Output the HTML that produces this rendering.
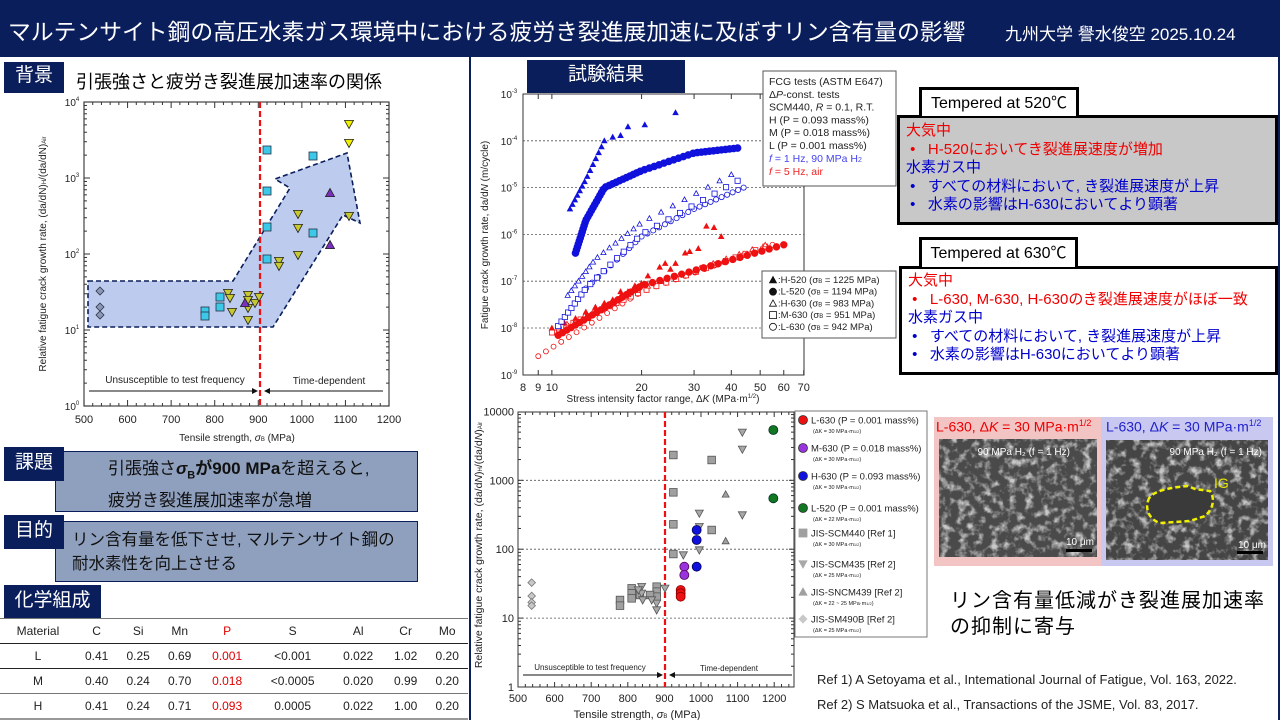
<!DOCTYPE html>
<html><head><meta charset="utf-8">
<style>
*{margin:0;padding:0;box-sizing:border-box}
body{width:1280px;height:720px;position:relative;overflow:hidden;background:#fff;font-family:"Liberation Sans","Noto Sans CJK JP",sans-serif}
.a{position:absolute;white-space:nowrap}
.lab{position:absolute;background:#0b1e5c;color:#fff;font-size:19px;text-align:center}
.box{position:absolute;background:#8fa0bf;border:1.5px solid #0b1e5c;color:#111;font-size:17px;line-height:24px;white-space:nowrap}
table{border-collapse:collapse;font-size:12px;color:#222}
td{text-align:center;height:25px}
.r{color:#e00000}
.bl{color:#0000cc}.rd{color:#ee0000}
</style></head><body>
<div class="a" style="left:0;top:0;width:1280px;height:57px;background:#0b1e5c"></div>
<div class="a" style="left:8px;top:14px;color:#fff;font-size:22.8px">マルテンサイト鋼の高圧水素ガス環境中における疲労き裂進展加速に及ぼすリン含有量の影響</div>
<div class="a" style="left:1005px;top:20px;color:#fff;font-size:17px">九州大学 譽水俊空 2025.10.24</div>
<div class="a" style="left:469px;top:57px;width:2px;height:663px;background:#0b1e5c"></div>
<div class="a" style="left:1278px;top:57px;width:2px;height:663px;background:#0b1e5c"></div>

<div class="lab" style="left:4px;top:62px;width:60px;height:31px;line-height:28px">背景</div>
<div class="a" style="left:76px;top:68px;font-size:18px">引張強さと疲労き裂進展加速率の関係</div>
<div class="lab" style="left:527px;top:60px;width:158px;height:33px;line-height:30px">試験結果</div>

<div class="box" style="left:55px;top:451px;width:363px;height:61px;padding:4px 0 0 52px;font-size:17px;line-height:26px">引張強さ<b><i>σ</i><sub style="font-size:11px">B</sub>が900 MPa</b>を超えると,<br>疲労き裂進展加速率が急増</div>
<div class="lab" style="left:4px;top:447px;width:60px;height:34px;line-height:32px">課題</div>
<div class="box" style="left:55px;top:521px;width:363px;height:61px;padding:6px 0 0 16px;font-size:16.5px">リン含有量を低下させ, マルテンサイト鋼の<br>耐水素性を向上させる</div>
<div class="lab" style="left:4px;top:515px;width:60px;height:34px;line-height:32px">目的</div>
<div class="lab" style="left:4px;top:585px;width:97px;height:34px;line-height:32px">化学組成</div>

<table class="a" style="left:0;top:618px;width:468px;border-top:1.5px solid #777">
<tr style="border-bottom:1.5px solid #222"><td>Material</td><td>C</td><td>Si</td><td>Mn</td><td class="r">P</td><td>S</td><td>Al</td><td>Cr</td><td>Mo</td></tr>
<tr style="border-bottom:1.5px solid #222"><td>L</td><td>0.41</td><td>0.25</td><td>0.69</td><td class="r">0.001</td><td>&lt;0.001</td><td>0.022</td><td>1.02</td><td>0.20</td></tr>
<tr style="border-bottom:1.5px solid #777"><td>M</td><td>0.40</td><td>0.24</td><td>0.70</td><td class="r">0.018</td><td>&lt;0.0005</td><td>0.020</td><td>0.99</td><td>0.20</td></tr>
<tr style="border-bottom:2px solid #999"><td>H</td><td>0.41</td><td>0.24</td><td>0.71</td><td class="r">0.093</td><td>0.0005</td><td>0.022</td><td>1.00</td><td>0.20</td></tr>
</table>

<div class="a" style="left:897px;top:115px;width:381px;height:110px;background:#c8c8c8;border:3px solid #000"></div>
<div class="a" style="left:919px;top:87px;width:160px;height:29px;background:#fff;border:3px solid #000;border-bottom:none;font-size:16px;text-align:center;line-height:27px">Tempered at 520℃</div>
<div class="a" style="left:906px;top:122px;font-size:15px;line-height:18.5px">
<div class="rd">大気中</div><div class="rd">&nbsp;•&nbsp;&nbsp; H-520においてき裂進展速度が増加</div>
<div class="bl">水素ガス中</div><div class="bl">&nbsp;•&nbsp;&nbsp; すべての材料において, き裂進展速度が上昇</div><div class="bl">&nbsp;•&nbsp;&nbsp; 水素の影響はH-630においてより顕著</div></div>
<div class="a" style="left:899px;top:266px;width:379px;height:109px;background:#fff;border:3px solid #000"></div>
<div class="a" style="left:919px;top:237px;width:159px;height:30px;background:#fff;border:3px solid #000;border-bottom:none;font-size:16px;text-align:center;line-height:27px">Tempered at 630℃</div>
<div class="a" style="left:908px;top:272px;font-size:15px;line-height:18.5px">
<div class="rd">大気中</div><div class="rd">&nbsp;•&nbsp;&nbsp; L-630, M-630, H-630のき裂進展速度がほぼ一致</div>
<div class="bl">水素ガス中</div><div class="bl">&nbsp;•&nbsp;&nbsp; すべての材料において, き裂進展速度が上昇</div><div class="bl">&nbsp;•&nbsp;&nbsp; 水素の影響はH-630においてより顕著</div></div>

<div class="a" style="left:934px;top:417px;width:167px;height:149px;background:#f2c4c4"></div>
<div class="a" style="left:1101px;top:417px;width:172px;height:149px;background:#c8c8f0"></div>
<div class="a" style="left:936px;top:418px;font-size:14px;color:#ee0000">L-630, Δ<i>K</i> = 30 MPa·m<sup style="font-size:9px">1/2</sup></div>
<div class="a" style="left:1106px;top:418px;font-size:14px;color:#2222cc">L-630, Δ<i>K</i> = 30 MPa·m<sup style="font-size:9px">1/2</sup></div>
<svg class="a" style="left:0;top:0" width="1280" height="720">
<defs><filter id="tx" x="0" y="0" width="100%" height="100%"><feTurbulence type="fractalNoise" baseFrequency="0.12" numOctaves="3" seed="4"/><feColorMatrix type="matrix" values="0 0 0 0 1  0 0 0 0 1  0 0 0 0 1  0 0 0 3 -1.4"/></filter></defs>
<rect x="939" y="439" width="158" height="118" fill="#4a4a4a"/>
<rect x="939" y="439" width="158" height="118" fill="#fff" filter="url(#tx)" opacity="0.7"/>
<rect x="1106" y="440" width="162" height="120" fill="#454545"/>
<rect x="1106" y="440" width="162" height="120" fill="#fff" filter="url(#tx)" opacity="0.7"/>
<text x="1070" y="455" fill="#fff" font-size="10" text-anchor="end" font-family="Liberation Sans">90 MPa H₂ (f = 1 Hz)</text>
<text x="1262" y="455" fill="#fff" font-size="10" text-anchor="end" font-family="Liberation Sans">90 MPa H₂ (f = 1 Hz)</text>
<text x="1214" y="488" fill="#e8e800" font-size="14" font-family="Liberation Sans">IG</text>
<path d="M1148,501 C1150,490 1175,487 1188,486 L1195,489 L1210,491 C1216,500 1212,510 1205,516 L1190,521 L1160,523 C1150,520 1145,510 1148,501Z" fill="#3a3a3a" stroke="#f0f000" stroke-width="2.5" stroke-dasharray="5,3"/>
<g fill="#fff" font-size="10" font-family="Liberation Sans"><text x="1066" y="545">10 μm</text><text x="1238" y="548">10 μm</text></g>
<rect x="1066" y="549" width="26" height="3" fill="#000"/><rect x="1237" y="551" width="26" height="3" fill="#000"/>
<g id="charts"></g>
</svg>
<div class="a" style="left:950px;top:588px;font-size:20px;line-height:26px;letter-spacing:1px">リン含有量低減がき裂進展加速率<br>の抑制に寄与</div>
<div class="a" style="left:817px;top:672px;font-size:13px;color:#222">Ref 1) A Setoyama et al., Intemational Journal of Fatigue, Vol. 163, 2022.</div>
<div class="a" style="left:817px;top:697px;font-size:13px;color:#222">Ref 2) S Matsuoka et al., Transactions of the JSME, Vol. 83, 2017.</div>

<script>
var s='';
function T(x,y,t,o){o=o||{};s+='<text x="'+x+'" y="'+y+'" font-size="'+(o.fs||10)+'" fill="'+(o.c||'#222')+'" text-anchor="'+(o.a||'middle')+'" font-family="Liberation Sans"'+(o.tr?' transform="'+o.tr+'"':'')+'>'+t+'</text>';}
function L(a,b,c,d,st){s+='<line x1="'+a+'" y1="'+b+'" x2="'+c+'" y2="'+d+'" '+(st||'stroke="#333" stroke-width="1"')+'/>';}
function M(t,x,y,r,f,st){st=st||'#222';var sw=' stroke="'+st+'" stroke-width="0.8" fill="'+f+'"';
 if(t=='c')s+='<circle cx="'+x+'" cy="'+y+'" r="'+r+'"'+sw+'/>';
 else if(t=='s')s+='<rect x="'+(x-r)+'" y="'+(y-r)+'" width="'+2*r+'" height="'+2*r+'"'+sw+'/>';
 else if(t=='u')s+='<polygon points="'+x+','+(y-r)+' '+(x+r)+','+(y+r*0.8)+' '+(x-r)+','+(y+r*0.8)+'"'+sw+'/>';
 else if(t=='d')s+='<polygon points="'+x+','+(y+r)+' '+(x+r)+','+(y-r*0.8)+' '+(x-r)+','+(y-r*0.8)+'"'+sw+'/>';
 else if(t=='m')s+='<polygon points="'+x+','+(y-r)+' '+(x+r)+','+y+' '+x+','+(y+r)+' '+(x-r)+','+y+'"'+sw+'/>';}
var X0=84,X1=389,Y0=102,Y1=406;
s+='<rect x="'+X0+'" y="'+Y0+'" width="'+(X1-X0)+'" height="'+(Y1-Y0)+'" fill="none" stroke="#444" stroke-width="1.2"/>';
for(var v=500;v<=1200;v+=20){var x=X0+(v-500)*(X1-X0)/700,l=(v%100==0)?6:3;L(x,Y1,x,Y1-l);L(x,Y0,x,Y0+l);}
for(var d=0;d<4;d++)for(var k=1;k<10;k++){var y=Y1-76*(d+Math.log10(k)),l=k==1?6:3;L(X0,y,X0+l,y);L(X1,y,X1-l,y);}
for(var v=500;v<=1200;v+=100)T(X0+(v-500)*(X1-X0)/700,Y1+17,v,{fs:11});
for(var d=0;d<=4;d++){T(X0-12,Y1-76*d+4,'10<tspan font-size="6" dy="-5">'+d+'</tspan>',{fs:10,a:'middle'});}
T(237,441,'Tensile strength, <tspan font-style="italic">σ</tspan><tspan font-size="6">B</tspan> (MPa)',{fs:10});
T(46,254,'Relative fatigue crack growth rate, (da/dN)<tspan font-size="6">H</tspan>/(da/dN)<tspan font-size="6">Air</tspan>',{fs:10,tr:'rotate(-90 46 254)'});
s+='<polygon points="88,281 233,281 290,188 275,179 347,153 360,223 343,215 273,327 88,327" fill="#bccbee" stroke="#0b1e5c" stroke-width="1.6" stroke-dasharray="5,3"/>';
L(260,102,260,406,'stroke="#ee1111" stroke-width="2.2" stroke-dasharray="6,3"');
T(175,383,'Unsusceptible to test frequency',{fs:10});T(329,384,'Time-dependent',{fs:10});
L(89,391,255,391,'stroke="#111" stroke-width="1"');s+='<polygon points="258,391 252,388 252,394" fill="#111"/>';
L(267,391,383,391,'stroke="#111" stroke-width="1"');s+='<polygon points="264,391 270,388 270,394" fill="#111"/>';
[[100,291],[100,307],[100,315]].forEach(function(p){M('m',p[0],p[1],4,'#8898b8','#334');});
[[205,311],[205,316],[220,297],[220,307],[267,150],[267,191],[267,227],[267,259],[313,156],[313,233]].forEach(function(p){M('s',p[0],p[1],4,'#3cc8e8','#234');});
[[349,124],[349,143]].forEach(function(p){M('d',p[0],p[1],4.5,'#f0f000');});
[[349,216],[298,214],[298,228],[298,255],[279,261],[279,266],[228,293],[230,298],[232,312],[248,295],[248,300],[248,308],[248,320],[255,303],[259,297]].forEach(function(p){M('d',p[0],p[1],4.5,'#c8c830');});
[[330,193],[330,245],[245,303]].forEach(function(p){M('u',p[0],p[1],4.5,'#7a30c0');});
var A0=523,A1=804,B0=94,B1=375;
function kx(K){return A0+298*Math.log10(K/8);} function vy(v){return B0+46.8*(-3-Math.log10(v));}
s+='<rect x="'+A0+'" y="'+B0+'" width="'+(A1-A0)+'" height="'+(B1-B0)+'" fill="#fff" stroke="#333" stroke-width="1"/>';
for(var e=-4;e>=-8;e--)L(A0,vy(Math.pow(10,e)),A1,vy(Math.pow(10,e)),'stroke="#555" stroke-width="0.8" stroke-dasharray="2,2"');
[8,9,10,20,30,40,50,60,70].forEach(function(K){L(kx(K),B1,kx(K),B1-5);L(kx(K),B0,kx(K),B0+5);T(kx(K),B1+16,K,{fs:11});});
for(var e=-3;e>=-9;e--)T(A0-14,vy(Math.pow(10,e))+4,'10<tspan font-size="6" dy="-5">'+e+'</tspan>',{fs:10});
T(663,402,'Stress intensity factor range, Δ<tspan font-style="italic">K</tspan> (MPa·m<tspan font-size="6" dy="-4">1/2</tspan><tspan dy="4">)</tspan>',{fs:10});
T(488,235,'Fatigue crack growth rate, da/d<tspan font-style="italic">N</tspan>  (m/cycle)',{fs:10,tr:'rotate(-90 488 235)'});
function ser(pts,n,t,r,f,st){for(var i=0;i<n;i++){var u=i/(n-1)*(pts.length-1),j=Math.min(Math.floor(u),pts.length-2),w=u-j;
 var lk=Math.log10(pts[j][0])*(1-w)+Math.log10(pts[j+1][0])*w,lv=Math.log10(pts[j][1])*(1-w)+Math.log10(pts[j+1][1])*w;
 M(t,kx(Math.pow(10,lk)),vy(Math.pow(10,lv)),r,f,st);}}
var R='#ee1111',Bc='#1111dd';
ser([[9,2.5e-9],[20,6e-8],[55,6e-7]],28,'c',2.5,'#fff',R);
ser([[10,8e-9],[20,6e-8],[52,5.5e-7]],26,'s',2.5,'#fff',R);
ser([[10.5,1e-8],[20,7e-8],[52,6e-7]],20,'u',2.5,'#fff',R);
ser([[10.5,7e-9],[20,8e-8],[60,6e-7]],40,'c',3.3,R,R);
[[10,1e-8],[11,1.3e-8],[12,1.6e-8],[13,2.2e-8],[14,2.8e-8],[15,3.4e-8],[16,4e-8],[17,6e-8],[18,6e-8],[19,8e-8],[20,9e-8],[21,1.3e-7],[23,2e-7],[24,2.4e-7],[25,1.8e-7],[26,2.4e-7],[28,4e-7],[29,4.3e-7],[31,5e-7],[33,1.5e-6],[35,1.4e-6],[37,9e-7]].forEach(function(p){M('u',kx(p[0]),vy(p[1]),2.6,R,R);});
ser([[13,7e-8],[20,9e-7],[30,3.5e-6],[44,1e-5]],28,'c',2.6,'#fff',Bc);
ser([[10.5,1.1e-8],[13,7e-8],[20,1e-6],[42,1.4e-5]],26,'s',2.6,'#fff',Bc);
ser([[11.3,5e-8],[14,3e-7],[20,1.8e-6],[40,1.9e-5]],24,'u',2.6,'#fff',Bc);
ser([[12,4e-7],[13,2e-6],[15,1e-5],[20,2.3e-5],[30,5.5e-5],[42,7e-5]],55,'c',3.4,Bc,Bc);
ser([[11.5,3.5e-6],[13,1.5e-5],[15,1e-4]],14,'u',2.6,Bc,Bc);
[[16,1.2e-4],[17,1.3e-4],[18,2e-4],[20.5,2.2e-4],[26,4e-4]].forEach(function(p){M('u',kx(p[0]),vy(p[1]),2.6,Bc,Bc);});
s+='<rect x="763" y="71" width="133" height="115" fill="#fff" stroke="#555" stroke-width="1"/>';
var lg=['FCG tests (ASTM E647)','Δ<tspan font-style="italic">P</tspan>-const. tests','SCM440, <tspan font-style="italic">R</tspan> = 0.1, R.T.','H (P = 0.093 mass%)','M (P = 0.018 mass%)','L (P = 0.001 mass%)'];
lg.forEach(function(t,i){T(769,85+i*12.8,t,{fs:10.5,a:'start'});});
T(769,162,'<tspan font-style="italic">f</tspan> = 1 Hz, 90 MPa H<tspan font-size="7">2</tspan>',{fs:10.5,a:'start',c:'#4444ee'});
T(769,175,'<tspan font-style="italic">f</tspan> = 5 Hz, air',{fs:10.5,a:'start',c:'#ee2222'});
s+='<rect x="762" y="271" width="134" height="67" fill="#fff" stroke="#555" stroke-width="1"/>';
var l2=[['u','#111','H-520 (σ<tspan font-size="6">B</tspan> = 1225 MPa)'],['c','#111','L-520 (σ<tspan font-size="6">B</tspan> = 1194 MPa)'],['u','#fff','H-630 (σ<tspan font-size="6">B</tspan> = 983 MPa)'],['s','#fff','M-630 (σ<tspan font-size="6">B</tspan> = 951 MPa)'],['c','#fff','L-630 (σ<tspan font-size="6">B</tspan> = 942 MPa)']];
l2.forEach(function(a,i){var y=283+i*11.7;M(a[0],773,y-3,3.5,a[1],'#111');T(778,y,':'+a[2],{fs:9.5,a:'start'});});
var C0=518,C1=794,D0=412,D1=687;
function sx(v){return C0+0.366*(v-500);} function ly(v){return D1-68.9*Math.log10(v);}
s+='<rect x="'+C0+'" y="'+D0+'" width="'+(C1-C0)+'" height="'+(D1-D0)+'" fill="#fff" stroke="#333" stroke-width="1"/>';
[10,100,1000].forEach(function(v){L(C0,ly(v),C1,ly(v),'stroke="#555" stroke-width="0.8" stroke-dasharray="2,2"');});
for(var v=500;v<=1250;v+=20){var l=(v%100==0)?5:3;L(sx(v),D1,sx(v),D1-l);L(sx(v),D0,sx(v),D0+l);}
for(var d=0;d<4;d++)for(var k=1;k<10;k++){var y=ly(Math.pow(10,d)*k),l=k==1?5:3;L(C0,y,C0+l,y);L(C1,y,C1-l,y);}
for(var v=500;v<=1200;v+=100)T(sx(v),D1+15,v,{fs:11});
[1,10,100,1000,10000].forEach(function(v){T(C0-4,ly(v)+4,v,{fs:11,a:'end'});});
T(637,718,'Tensile strength, <tspan font-style="italic">σ</tspan><tspan font-size="6">B</tspan> (MPa)',{fs:11});
T(482,545,'Relative fatigue crack growth rate, (da/d<tspan font-style="italic">N</tspan>)<tspan font-size="6">H</tspan>/(da/d<tspan font-style="italic">N</tspan>)<tspan font-size="6">Air</tspan>',{fs:10.5,tr:'rotate(-90 482 545)'});
L(665,D0,665,D1,'stroke="#ee1111" stroke-width="2.2" stroke-dasharray="6,3"');
T(590,670,'Unsusceptible to test frequency',{fs:8});T(729,671,'Time-dependent',{fs:8});
L(523,675,660,675,'stroke="#111"');s+='<polygon points="663,675 657,672 657,678" fill="#111"/>';
L(672,675,792,675,'stroke="#111"');s+='<polygon points="669,675 675,672 675,678" fill="#111"/>';
function zc(a){return [a[0]/3+470,a[1]/3+400];}
function put(list,t,r,f,st){list.forEach(function(a){var p=zc(a);M(t,p[0],p[1],r,f,st);});}
put([[185,548],[185,588],[185,607],[185,617]],'m',3.8,'#c8c8c8','#777');
put([[610,165],[610,277],[610,373],[610,462],[725,180],[725,390],[450,600],[450,617],[485,565],[485,580],[485,595],[560,560],[560,575],[560,590],[540,585],[510,585]],'s',3.8,'#a0a0a0','#555');
put([[817,97],[817,148],[817,345],[688,340],[688,380],[688,450],[640,465],[515,560],[515,580],[518,600],[560,610],[560,630],[585,565],[505,570],[545,600]],'d',4,'#a8a8a8','#555');
put([[767,283],[767,423]],'u',3.5,'#a0a0a0','#555');
put([[632,570],[632,580],[632,590]],'c',4.5,'#ee1111','#800');
put([[643,500],[643,525]],'c',4.5,'#9933dd','#505');
put([[680,390],[680,420],[680,500]],'c',4.5,'#1111dd','#005');
put([[910,90],[910,295]],'c',4.5,'#117722','#032');
s+='<rect x="795" y="411" width="132" height="226" fill="#fff" stroke="#777" stroke-width="1"/>';
var l3=[['c','#ee1111','L-630 (P = 0.001 mass%)','(ΔK = 30 MPa·m<tspan font-size="4">1/2</tspan>)',420],['c','#9933dd','M-630 (P = 0.018 mass%)','(ΔK = 30 MPa·m<tspan font-size="4">1/2</tspan>)',448],['c','#1111dd','H-630 (P = 0.093 mass%)','(ΔK = 30 MPa·m<tspan font-size="4">1/2</tspan>)',476],['c','#117722','L-520 (P = 0.001 mass%)','(ΔK = 22 MPa·m<tspan font-size="4">1/2</tspan>)',508],['s','#a0a0a0','JIS-SCM440 [Ref 1]','(ΔK = 30 MPa·m<tspan font-size="4">1/2</tspan>)',533],['d','#a8a8a8','JIS-SCM435 [Ref 2]','(ΔK = 25 MPa·m<tspan font-size="4">1/2</tspan>)',564],['u','#a0a0a0','JIS-SNCM439 [Ref 2]','(ΔK = 22 ~ 25 MPa·m<tspan font-size="4">1/2</tspan>)',592],['m','#c8c8c8','JIS-SM490B [Ref 2]','(ΔK = 25 MPa·m<tspan font-size="4">1/2</tspan>)',619]];
l3.forEach(function(a){var y=a[4];M(a[0],803,y,a[0]=='c'?4.5:4,a[1],a[0]=='c'?'#333':a[1]);T(811,y+3.5,a[2],{fs:9.5,a:'start'});T(813,y+13,a[3],{fs:5.5,a:'start'});});
document.getElementById('charts').innerHTML=s;
</script>
</body></html>
